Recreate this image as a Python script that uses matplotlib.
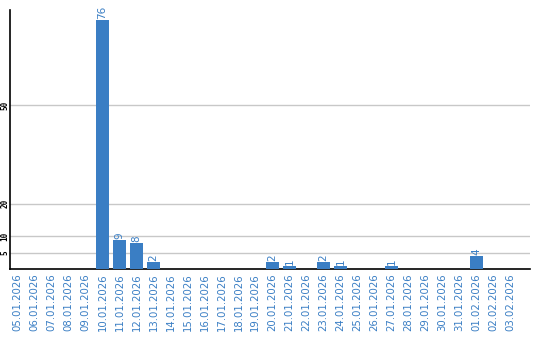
import matplotlib
matplotlib.use("Agg")
import matplotlib.pyplot as plt
import numpy as np

dates = ["05.01.2026", "06.01.2026", "07.01.2026", "08.01.2026", "09.01.2026",
         "10.01.2026", "11.01.2026", "12.01.2026", "13.01.2026", "14.01.2026",
         "15.01.2026", "16.01.2026", "17.01.2026", "18.01.2026", "19.01.2026",
         "20.01.2026", "21.01.2026", "22.01.2026", "23.01.2026", "24.01.2026",
         "25.01.2026", "26.01.2026", "27.01.2026", "28.01.2026", "29.01.2026",
         "30.01.2026", "31.01.2026", "01.02.2026", "02.02.2026", "03.02.2026"]
values = [0, 0, 0, 0, 0,
          76, 9, 8, 2, 0,
          0, 0, 0, 0, 0,
          2, 1, 0, 2, 1,
          0, 0, 1, 0, 0,
          0, 0, 4, 0, 0]
yticks = [5, 10, 20, 50]

blue = "#3a7ec4"
fig = plt.figure(figsize=(5.4, 3.4), dpi=100)
ax = fig.add_axes([10/540, 1-269/340, 520/540, 259/340])
x = np.arange(len(dates))
bars = ax.bar(x, values, width=0.8, color=blue, zorder=3)
for xi, v in zip(x, values):
    if v > 0:
        ax.text(xi, v + 0.3, str(v), rotation=90, ha="center", va="bottom",
                color=blue, fontsize=7.5)
ax.set_xlim(-0.44, 30.16)
ax.set_ylim(0, 79.2)
ax.set_yticks(yticks)
ax.set_yticklabels([str(t) for t in yticks], rotation=90, va="center",
                   fontsize=5.5, family="DejaVu Sans Mono", fontweight="bold")
ax.set_xticks(x)
ax.set_xticklabels(dates, rotation=90, color=blue, fontsize=7.3)
ax.tick_params(axis="x", length=0, pad=3)
ax.tick_params(axis="y", length=0, pad=0.5)
ax.grid(axis="y", color="#c8c8c8", linewidth=1, zorder=0)
for s in ["top", "right"]:
    ax.spines[s].set_visible(False)
ax.spines["left"].set_color("black")
ax.spines["bottom"].set_color("black")
ax.spines["left"].set_linewidth(1.2)
ax.spines["bottom"].set_linewidth(1.2)
fig.savefig("out.png", dpi=100)
